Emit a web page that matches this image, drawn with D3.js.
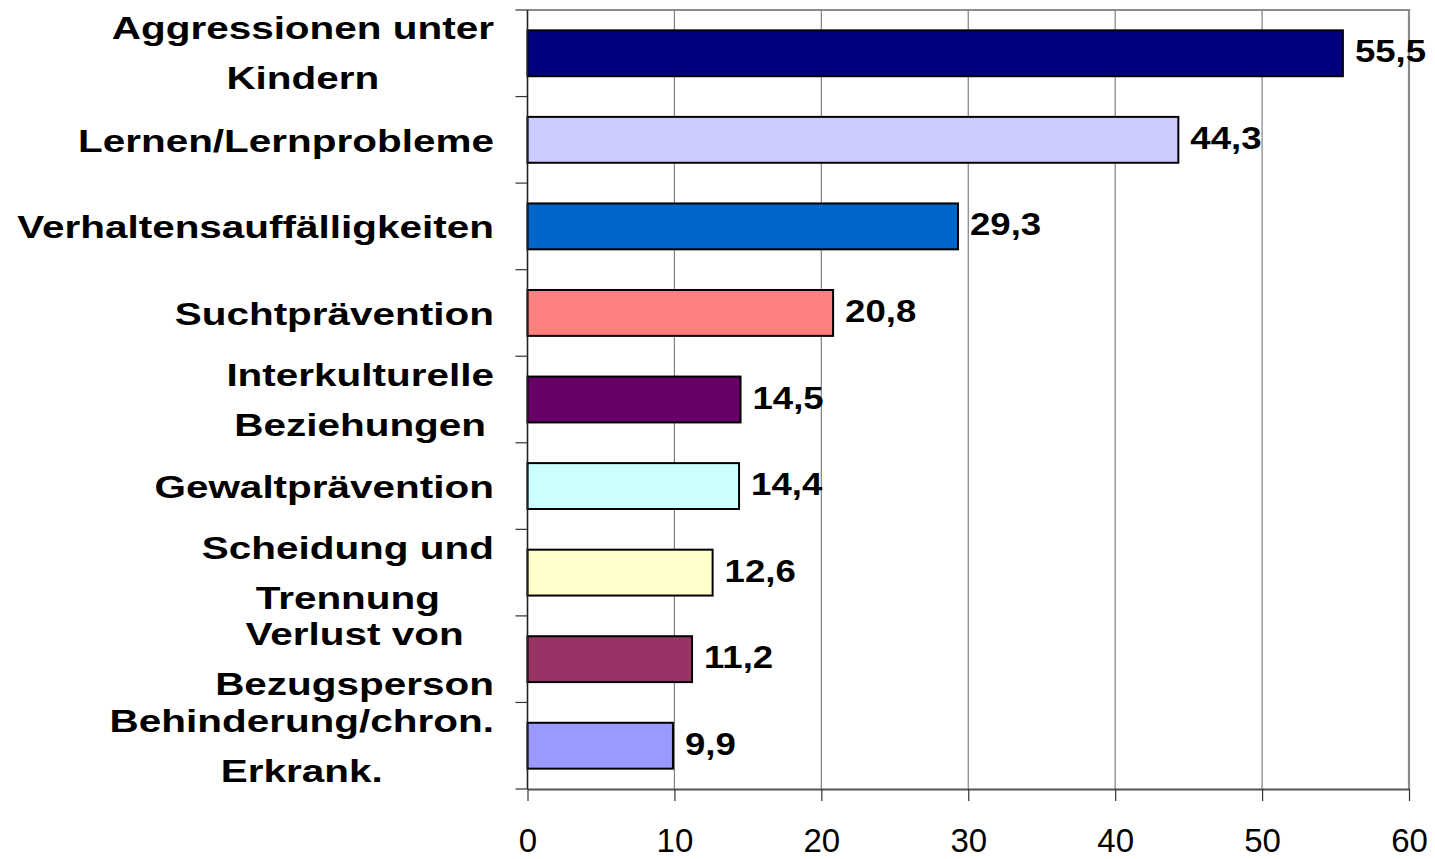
<!DOCTYPE html>
<html>
<head>
  <meta charset="utf-8">
  <script src="https://d3js.org/d3.v7.min.js"></script>
  <style>
    body { margin: 0; background: #fff; }
  </style>
</head>
<body>
<script>

// data
let categories = [
  ["Aggressionen unter", "Kindern"],
  ["Lernen/Lernprobleme"],
  ["Verhaltensauffälligkeiten"],
  ["Suchtprävention"],
  ["Interkulturelle", "Beziehungen"],
  ["Gewaltprävention"],
  ["Scheidung und", "Trennung"],
  ["Verlust von", "Bezugsperson"],
  ["Behinderung/chron.", "Erkrank."]
];
let values = [55.5, 44.3, 29.3, 20.8, 14.5, 14.4, 12.6, 11.2, 9.9];
let barColors = ["#000080", "#CCCCFF", "#0066CC", "#FF8080", "#660066",
                 "#CCFFFF", "#FFFFCC", "#993366", "#9999FF"];
let xTicks = [0, 10, 20, 30, 40, 50, 60];

let canvasW = 1435;
let canvasH = 859;
let plotL = 527.5, plotR = 1409, plotT = 10, plotB = 789;
let sx = 1.265;   // the original text is stretched horizontally

let svg = d3.select("body").append("svg")
  .attr("width", canvasW)
  .attr("height", canvasH)
  .style("background-color", "#fff");

let x = d3.scaleLinear().domain([0, 60]).range([plotL, plotR]);
let y = d3.scaleBand().domain(d3.range(values.length)).range([plotT, plotB])
  .paddingInner(0.47).paddingOuter(0.235);
let yStep = (plotB - plotT) / values.length;

// gridlines
svg.selectAll(".grid")
  .data(xTicks.slice(1, -1))
  .enter()
  .append("line")
  .attr("x1", d => x(d)).attr("x2", d => x(d))
  .attr("y1", plotT).attr("y2", plotB)
  .attr("stroke", "#808080")
  .attr("stroke-width", 1.2);

// plot border top / right
svg.append("path")
  .attr("d", `M${plotL},${plotT}H${plotR}V${plotB}`)
  .attr("fill", "none")
  .attr("stroke", "#8c8c8c")
  .attr("stroke-width", 2.2);

// bars
svg.selectAll(".bar")
  .data(values)
  .enter()
  .append("rect")
  .attr("x", x(0))
  .attr("y", (d, i) => y(i))
  .attr("width", d => x(d) - x(0))
  .attr("height", y.bandwidth())
  .attr("fill", (d, i) => barColors[i])
  .attr("stroke", "#000")
  .attr("stroke-width", 2);

// x axis
let xAxis = svg.append("g")
  .attr("transform", `translate(0,${plotB})`)
  .call(d3.axisBottom(x).tickValues(xTicks).tickSize(12).tickSizeOuter(0).tickPadding(28));
xAxis.select(".domain").attr("stroke", "#555").attr("stroke-width", 2.2);
xAxis.selectAll(".tick line").attr("stroke", "#333").attr("stroke-width", 1.2);
xAxis.selectAll(".tick text")
  .attr("font-family", "'Liberation Sans', Arial, sans-serif")
  .attr("font-size", "33px")
  .attr("fill", "#000");

// y axis (ticks between categories)
let yTickPos = d3.range(values.length + 1).map(i => plotT + i * yStep);
svg.append("line")
  .attr("x1", plotL).attr("x2", plotL)
  .attr("y1", plotT).attr("y2", plotB)
  .attr("stroke", "#222")
  .attr("stroke-width", 1.6);
svg.selectAll(".ytick")
  .data(yTickPos)
  .enter()
  .append("line")
  .attr("x1", plotL - 12).attr("x2", plotL)
  .attr("y1", d => d).attr("y2", d => d)
  .attr("stroke", "#333")
  .attr("stroke-width", 1.2);

// value labels
svg.selectAll(".val")
  .data(values)
  .enter()
  .append("text")
  .attr("transform", (d, i) => `translate(${x(d) + 12},${y(i) + y.bandwidth() / 2 + 9}) scale(1.18,1)`)
  .attr("font-family", "'Liberation Sans', Arial, sans-serif")
  .attr("font-weight", "bold")
  .attr("font-size", "31px")
  .attr("fill", "#000")
  .text(d => String(d).replace(".", ","));

// category labels, lines centered within block, block right aligned
let labelRight = 494;
categories.forEach((lines, i) => {
  let cy = plotT + (i + 0.5) * yStep;
  let g = svg.append("g");
  let texts = lines.map(t => g.append("text")
    .attr("font-family", "'Liberation Sans', Arial, sans-serif")
    .attr("font-weight", "bold")
    .attr("font-size", "32px")
    .attr("fill", "#000")
    .attr("text-anchor", "middle")
    .text(t));
  let maxW = d3.max(texts, t => t.node().getComputedTextLength()) * sx;
  let cx = labelRight - maxW / 2;
  texts.forEach((t, j) => {
    let by = lines.length === 1 ? cy + 12 : cy - 14 + j * 50;
    t.attr("transform", `translate(${cx},${by}) scale(${sx},1)`);
  });
});

</script>
</body>
</html>
